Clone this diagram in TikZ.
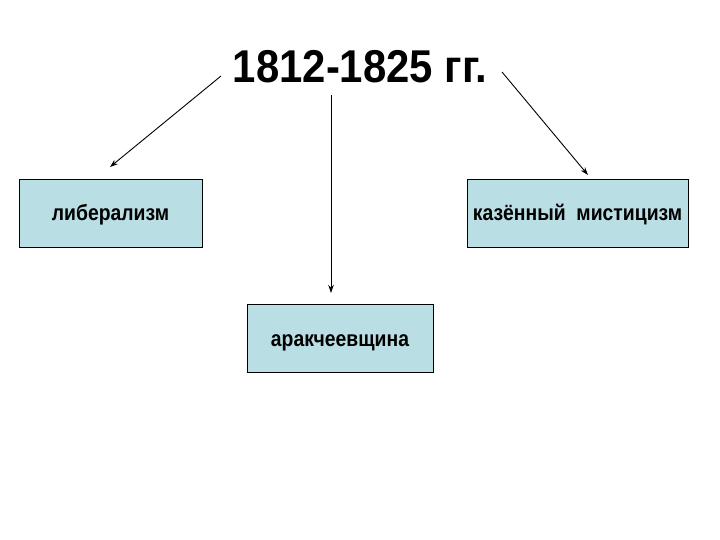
\documentclass[tikz,border=0pt]{standalone}
\usepackage{fontspec}
\setmainfont{Liberation Sans}
\usetikzlibrary{arrows.meta}
\definecolor{boxfill}{RGB}{185,222,227}
\newcommand\narrowtxt[2]{\scalebox{#1}[1]{#2}}
\tikzset{
  box/.style={draw=black, line width=0.9pt, fill=boxfill, minimum height=68pt, inner sep=0pt,
    text height=16pt, text depth=0pt,
    font=\fontsize{22}{24}\selectfont\bfseries},
  conn/.style={line width=0.9pt, -{Stealth[length=8pt,width=5.5pt]}}
}
\begin{document}
\begin{tikzpicture}[x=1pt,y=-1pt]
\useasboundingbox (0,0) rectangle (720,540);
\node[font=\fontsize{46}{50}\selectfont\bfseries, inner sep=0pt, anchor=base] (title) at (360,82.5) {\narrowtxt{0.91}{1812-1825 гг.}};
\node[box, minimum width=183pt] (lib) at (110.5,213) {\narrowtxt{0.88}{либерализм}};
\node[box, minimum width=221pt] (kaz) at (577.5,213) {\narrowtxt{0.88}{казённый\ \ мистицизм}};
\node[box, minimum width=186pt] (ark) at (340,338) {\narrowtxt{0.88}{аракчеевщина}};
\coordinate (sL) at (221,76);
\coordinate (tL) at (110,167);
\coordinate (sC) at (331,95);
\coordinate (tC) at (331,293);
\coordinate (sR) at (502,72);
\coordinate (tR) at (588,175);
\draw[conn] (sL) -- (tL);
\draw[conn] (sC) -- (tC);
\draw[conn] (sR) -- (tR);
\end{tikzpicture}
\end{document}
